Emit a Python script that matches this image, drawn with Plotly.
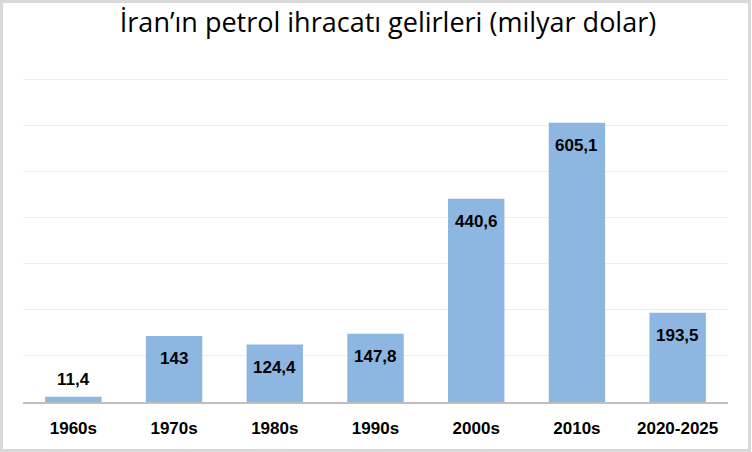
import plotly.graph_objects as go

categories = ["1960s", "1970s", "1980s", "1990s", "2000s", "2010s", "2020-2025"]
values = [11.4, 143, 124.4, 147.8, 440.6, 605.1, 193.5]
labels = ["11,4", "143", "124,4", "147,8", "440,6", "605,1", "193,5"]
title_text = "İran’ın petrol ihracatı gelirleri (milyar dolar)"

W, H = 752, 452
ML, MR, MT, MB = 23, 24, 77, 50
YMAX = 700 * 325 / 323

fig = go.Figure()
fig.add_trace(go.Bar(
    x=categories, y=values,
    marker=dict(color="#8DB6E1", line=dict(width=0)),
    hoverinfo="skip",
))

plot_h = H - MT - MB
for c, v, t in zip(categories, values, labels):
    px_h = v / YMAX * plot_h
    if px_h < 30:
        fig.add_annotation(x=c, y=v, text="<b>" + t + "</b>", showarrow=False, yanchor="bottom",
                           yshift=6, font=dict(family="Liberation Sans", size=17, color="black"))
    else:
        fig.add_annotation(x=c, y=v, text="<b>" + t + "</b>", showarrow=False, yanchor="top",
                           yshift=-11, font=dict(family="Liberation Sans", size=17, color="black"))

pw = W - ML - MR
ph = H - MT - MB
fig.add_shape(type="rect", xref="paper", yref="paper",
              x0=-(ML - 1.5) / pw, x1=1 + (MR - 2.5) / pw,
              y0=-(MB - 1.5) / ph, y1=1 + (MT - 1.5) / ph,
              line=dict(color="#D9D9D9", width=3), layer="below")

fig.update_layout(
    width=W, height=H,
    margin=dict(l=ML, r=MR, t=MT, b=MB, autoexpand=False),
    paper_bgcolor="white", plot_bgcolor="white",
    bargap=0.44,
    showlegend=False,
    title=dict(text=title_text, x=388 / W, xanchor="center",
               y=1 - 23 / H, yanchor="middle", yref="container",
               font=dict(family="Open Sans", size=27, color="black")),
    xaxis=dict(showgrid=False, showline=True, linecolor="#BFBFBF", linewidth=2,
               ticks="", tickfont=dict(family="Liberation Sans", size=17, color="black"),
               tickprefix="<b>", ticksuffix="</b>",
               ticklabelstandoff=10, automargin=False, fixedrange=True),
    yaxis=dict(range=[0, YMAX], dtick=100, showgrid=True, gridcolor="#EDEDED", gridwidth=1,
               showticklabels=False, zeroline=False, ticks="", automargin=False, fixedrange=True),
)

fig.write_html("out.html", config={"displayModeBar": False},
               post_script="document.body.style.margin='0';document.body.style.overflow='hidden';")
